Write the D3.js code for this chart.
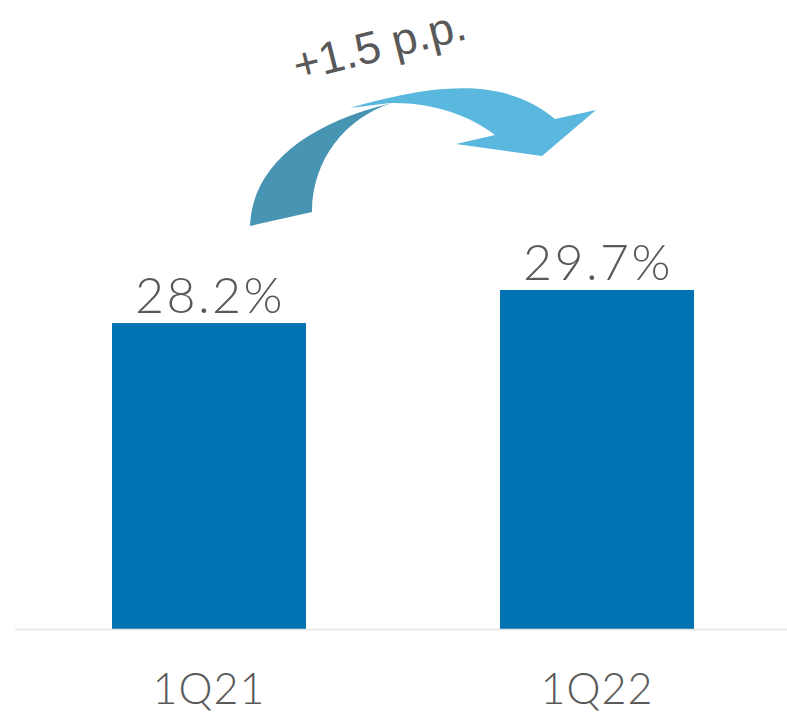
<!DOCTYPE html>
<html>
<head>
<meta charset="utf-8">
<script src="https://cdn.jsdelivr.net/npm/d3@7"></script>
<style>
  html, body { margin: 0; padding: 0; background: #fff; }
  svg { display: block; }
</style>
</head>
<body>
<div id="chart"></div>
<script>
// data
const categories = ['1Q21', '1Q22'];
const values = [28.2, 29.7];
const valueLabels = ['28.2%', '29.7%'];
const deltaLabel = '+1.5 p.p.';

const width = 787;
const height = 714;
const baseY = 629;
const yMin = 14.3; // axis does not start at zero in the original

const data = categories.map((c, i) => ({ cat: c, value: values[i], label: valueLabels[i] }));

const x = d3.scaleBand()
  .domain(categories)
  .range([15, 791])
  .paddingInner(0.5)
  .paddingOuter(0.25);

const y = d3.scaleLinear()
  .domain([yMin, d3.max(values)])
  .range([baseY, 290]);

const svg = d3.select('#chart')
  .append('svg')
  .attr('width', width)
  .attr('height', height);

// bars
svg.append('g')
  .selectAll('rect')
  .data(data)
  .join('rect')
  .attr('x', d => x(d.cat))
  .attr('y', d => y(d.value))
  .attr('width', x.bandwidth())
  .attr('height', d => baseY - y(d.value))
  .attr('fill', '#0173B2');

// baseline
svg.append('line')
  .attr('x1', 15)
  .attr('x2', width)
  .attr('y1', baseY + 0.5)
  .attr('y2', baseY + 0.5)
  .attr('stroke', '#e3e3e3')
  .attr('stroke-width', 1.5);

// value labels
svg.append('g')
  .selectAll('text')
  .data(data)
  .join('text')
  .attr('x', d => x(d.cat) + x.bandwidth() / 2 + 1)
  .attr('y', d => y(d.value) - 10)
  .attr('text-anchor', 'middle')
  .attr('font-family', 'Lato, sans-serif')
  .attr('font-weight', 300)
  .attr('font-size', 50)
  .attr('letter-spacing', 2.5)
  .attr('fill', '#595959')
  .text(d => d.label);

// category labels
svg.append('g')
  .selectAll('text')
  .data(data)
  .join('text')
  .attr('x', d => x(d.cat) + x.bandwidth() / 2)
  .attr('y', 704)
  .attr('text-anchor', 'middle')
  .attr('font-family', 'Lato, sans-serif')
  .attr('font-weight', 300)
  .attr('font-size', 43)
  .attr('letter-spacing', 1)
  .attr('fill', '#595959')
  .text(d => d.cat);

// curved arrow, placed from the left bar top
const ox = x(categories[0]) + x.bandwidth() / 2;
const oy = y(values[0]);
const arrow = svg.append('g').attr('transform', `translate(${ox},${oy})`);

// light part (head)
arrow.append('path')
  .attr('d', 'M141,-215 C211,-235 291,-251 346,-204 L387,-213 L333,-167 L247,-179 L286,-188 C261,-208 221,-221 181,-220 Z')
  .attr('fill', '#5AB8DE');

// dark part (tail)
arrow.append('path')
  .attr('d', 'M41,-97 C43,-153 91,-198 183,-220 C136,-205 103,-163 103,-111 Z')
  .attr('fill', '#4794B3');

svg.append('text')
  .attr('transform', 'translate(383,60) rotate(-14)')
  .attr('text-anchor', 'middle')
  .attr('font-family', '"Liberation Sans", Arial, Helvetica, sans-serif')
  .attr('font-size', 45)
  .attr('fill', '#595959')
  .text(deltaLabel);
</script>
</body>
</html>
